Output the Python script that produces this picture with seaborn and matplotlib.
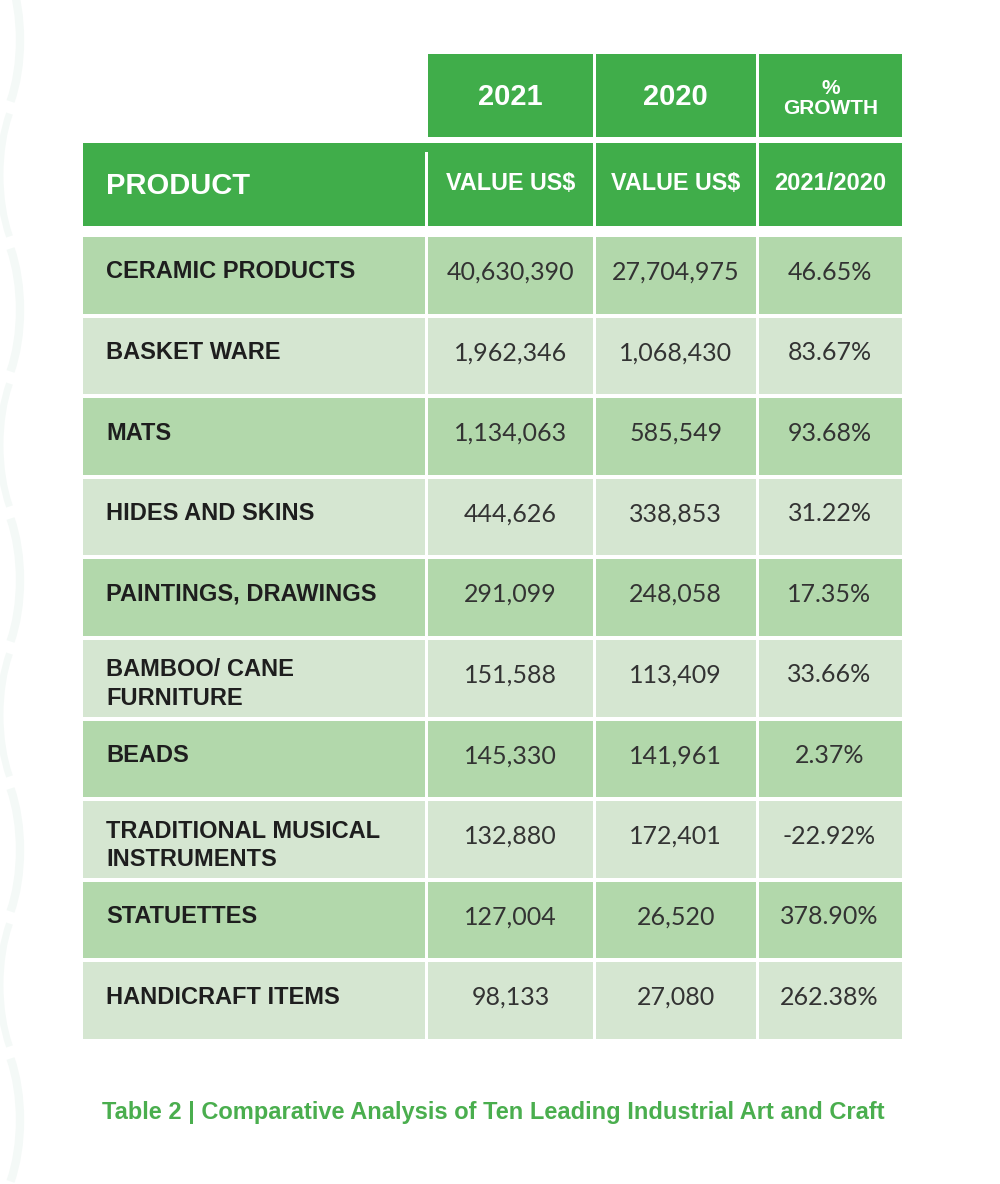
import matplotlib
matplotlib.use("Agg")
import matplotlib.pyplot as plt
from matplotlib.patches import Rectangle, Arc
from matplotlib import font_manager
import seaborn as sns

# ---------------- data ----------------
products = ["CERAMIC PRODUCTS", "BASKET WARE", "MATS", "HIDES AND SKINS",
            "PAINTINGS, DRAWINGS", "BAMBOO/ CANE\nFURNITURE", "BEADS",
            "TRADITIONAL MUSICAL\nINSTRUMENTS", "STATUETTES", "HANDICRAFT ITEMS"]
value_2021 = [40630390, 1962346, 1134063, 444626, 291099, 151588, 145330, 132880, 127004, 98133]
value_2020 = [27704975, 1068430, 585549, 338853, 248058, 113409, 141961, 172401, 26520, 27080]
growth_pct = [46.65, 83.67, 93.68, 31.22, 17.35, 33.66, 2.37, -22.92, 378.90, 262.38]
year_headers = ["2021", "2020", "%\nGROWTH"]
sub_headers = ["PRODUCT", "VALUE US$", "VALUE US$", "2021/2020"]
caption = "Table 2 | Comparative Analysis of Ten Leading Industrial Art and Craft"

# ---------------- style ----------------
sns.set_theme(style="white")
fonts = font_manager.fontManager.ttflist
names = {f.name for f in fonts}
cond = "Liberation Sans Narrow" if "Liberation Sans Narrow" in names else "Liberation Sans"
num_font = "Lato" if "Lato" in names else "DejaVu Sans"
plt.rcParams["font.family"] = [cond, "DejaVu Sans"]

HEADER = "#40AD4A"
DARK_ROW = "#B2D8AB"
LIGHT_ROW = "#D5E6D1"
CAPTION = "#4AAE4E"
TXT = "#1E1E1E"
NUM = "#333333"

fig = plt.figure(figsize=(10, 11.84), dpi=100)
ax = fig.add_axes([0, 0, 1, 1])
ax.set_xlim(0, 1000)
ax.set_ylim(1184, 0)
ax.axis("off")

# very faint background ornament on the left edge
for cy in [40, 310, 580, 850, 1120]:
    ax.add_patch(Arc((-25, cy), 90, 200, theta1=-60, theta2=60, color="#F4F9F7", lw=6, zorder=0))
    ax.add_patch(Arc((45, cy + 135), 90, 200, theta1=120, theta2=240, color="#F4F9F7", lw=5, zorder=0))

# layout (pixels)
col_edges = [83, 426.5, 594.5, 757, 902]
gap = 1.5
def cell(x0, x1, y0, y1, color):
    ax.add_patch(Rectangle((x0, y0), x1 - x0, y1 - y0, facecolor=color, edgecolor="none", zorder=1))

# header row 1 (years)
h1_top, h1_bot = 54, 137
for j, lab in enumerate(year_headers):
    x0 = col_edges[j + 1] + gap
    x1 = col_edges[j + 2] - gap if j < 2 else col_edges[j + 2]
    cell(x0, x1, h1_top, h1_bot, HEADER)
    cx = (x0 + x1) / 2
    if "\n" in lab:
        a, b = lab.split("\n")
        ax.text(cx, 89, a, ha="center", va="center", color="white", fontsize=15, fontweight="bold")
        ax.text(cx, 108, b, ha="center", va="center", color="white", fontsize=15, fontweight="bold")
    else:
        ax.text(cx, 97, lab, ha="center", va="center", color="white", fontsize=21, fontweight="bold")

# header row 2
h2_top, h2_bot = 143, 226
for j, lab in enumerate(sub_headers):
    x0 = col_edges[j] + (gap if j > 0 else 0)
    x1 = col_edges[j + 1] - (gap if j < 3 else 0)
    cell(x0, x1, h2_top, h2_bot, HEADER)
    if j == 0:
        ax.text(106, 186, lab, ha="left", va="center", color="white", fontsize=21, fontweight="bold")
    elif j == 3:
        ax.text((x0 + x1) / 2, 184, lab, ha="center", va="center", color="white", fontsize=17, fontweight="bold")
    else:
        ax.text((x0 + x1) / 2, 183, lab, ha="center", va="center", color="white", fontsize=16.8, fontweight="bold")
# the white line at left of the first value column starts a little lower
ax.add_patch(Rectangle((col_edges[1] - gap, h2_top), 2 * gap, 9, facecolor=HEADER, edgecolor="none", zorder=2))

# body
row_top0, pitch, row_h = 237, 80.6, 76.5
for i, prod in enumerate(products):
    y0 = row_top0 + i * pitch
    y1 = y0 + row_h
    color = DARK_ROW if i % 2 == 0 else LIGHT_ROW
    for j in range(4):
        x0 = col_edges[j] + (gap if j > 0 else 0)
        x1 = col_edges[j + 1] - (gap if j < 3 else 0)
        cell(x0, x1, y0, y1, color)
    if "\n" in prod:
        ax.text(106, y0 + 44, prod, ha="left", va="center", color=TXT, fontsize=17,
                fontweight="bold", linespacing=1.3)
    else:
        ax.text(106, y0 + 35, prod, ha="left", va="center", color=TXT, fontsize=17, fontweight="bold")
    vals = [f"{value_2021[i]:,}", f"{value_2020[i]:,}", f"{growth_pct[i]:.2f}%"]
    for j, v in enumerate(vals):
        cx = (col_edges[j + 1] + col_edges[j + 2]) / 2
        ax.text(cx, y0 + 35, v, ha="center", va="center", color=NUM, fontsize=18,
                family=[num_font, "DejaVu Sans"])

# caption
ax.text(493, 1112, caption, ha="center", va="center", color=CAPTION, fontsize=17, fontweight="bold")

fig.savefig("out.png", dpi=100, facecolor="white")
